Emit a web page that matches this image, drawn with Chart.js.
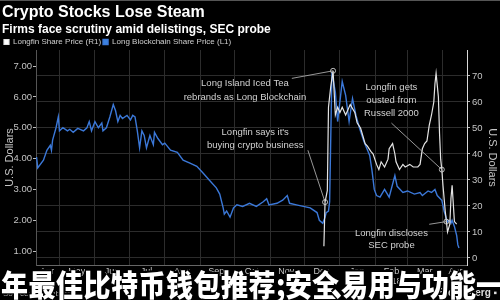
<!DOCTYPE html>
<html>
<head>
<meta charset="utf-8">
<script src="https://cdn.jsdelivr.net/npm/chart.js@4.4.1/dist/chart.umd.min.js"></script>
<style>
    html, body { margin: 0; padding: 0; background: #000; }
    #wrap { position: relative; width: 500px; height: 300px; overflow: hidden; background: #000; }
    #wrap:before { content: ''; position: absolute; left: 0; top: 0; width: 500px; height: 1px; background: #555; }
    #source { position: absolute; left: 3px; top: 289px; font: 8px "Liberation Sans", sans-serif; color: #aaa; }
    #logo { position: absolute; left: 438px; top: 287px; font: bold 10px "Liberation Sans", sans-serif; color: #ddd; }
    #overlay { position: absolute; left: 1px; top: 268px; white-space: nowrap; font-family: "Noto Sans CJK SC", sans-serif;
               font-weight: 900; font-size: 27px; line-height: 1; color: #fff;
               transform: scaleY(1.1); transform-origin: top left;
               text-shadow: 0 0 2px #000, 1px 1px 0 #000, -1px -1px 0 #000, 1px -1px 0 #000, -1px 1px 0 #000; }
    .wide { letter-spacing: 0.5px; }
    .semi { display: inline-block; width: 9px; text-align: center; }
    .comma { display: inline-block; width: 2px; overflow: visible; position: relative; left: -8px; z-index: 1; }
</style>
</head>
<body>
<div id="wrap">
    <canvas id="chart" width="500" height="300"></canvas>
    <div id="source">Source: Bloomberg</div>
    <div id="logo">Bloomberg ▪</div>
    <div id="overlay"><span class="wide">年最佳比特币钱包推荐</span><span class="semi">;</span>安全<span class="comma">、</span>易用与功能一览</div>
</div>
<script>
// Long Blockchain share price (left axis, L1)
const blockchainDates = [
    '2017-04-11', '2017-04-12', '2017-04-17', '2017-04-20', '2017-04-23', '2017-04-24', '2017-04-25', '2017-04-28', '2017-04-30',
    '2017-05-01', '2017-05-04', '2017-05-08', '2017-05-10', '2017-05-13', '2017-05-17', '2017-05-22', '2017-05-25', '2017-05-27', '2017-05-29',
    '2017-06-01', '2017-06-04', '2017-06-07', '2017-06-08', '2017-06-11', '2017-06-14', '2017-06-17', '2017-06-19', '2017-06-21', '2017-06-23', '2017-06-25', '2017-06-29',
    '2017-07-02', '2017-07-04', '2017-07-06', '2017-07-08', '2017-07-10', '2017-07-12', '2017-07-14', '2017-07-16', '2017-07-19', '2017-07-22', '2017-07-23', '2017-07-26', '2017-07-30',
    '2017-08-01', '2017-08-06', '2017-08-12', '2017-08-17', '2017-08-23', '2017-08-29',
    '2017-09-03', '2017-09-09', '2017-09-15', '2017-09-18', '2017-09-21', '2017-09-22', '2017-09-24', '2017-09-27', '2017-09-30',
    '2017-10-03', '2017-10-08', '2017-10-14', '2017-10-20', '2017-10-26', '2017-10-29', '2017-10-31',
    '2017-11-07', '2017-11-12', '2017-11-16', '2017-11-18', '2017-11-24', '2017-11-30',
    '2017-12-06', '2017-12-12', '2017-12-14', '2017-12-17', '2017-12-19', '2017-12-20', '2017-12-22', '2017-12-23', '2017-12-25', '2017-12-28', '2017-12-30',
    '2018-01-03', '2018-01-06', '2018-01-09', '2018-01-12', '2018-01-15', '2018-01-18', '2018-01-22', '2018-01-27', '2018-01-29', '2018-01-31',
    '2018-02-02', '2018-02-05', '2018-02-09', '2018-02-13', '2018-02-18', '2018-02-20', '2018-02-25',
    '2018-03-01', '2018-03-07', '2018-03-12', '2018-03-14', '2018-03-19', '2018-03-22', '2018-03-25', '2018-03-27', '2018-03-31',
    '2018-04-02', '2018-04-04', '2018-04-05', '2018-04-07', '2018-04-08', '2018-04-09', '2018-04-11', '2018-04-13', '2018-04-14', '2018-04-15'
];
const blockchainPrices = [
    4.05, 3.7, 3.95, 4.27, 4.43, 4.27, 4.6, 5.0, 5.35,
    4.9, 5.0, 4.9, 4.95, 4.85, 4.98, 4.9, 5.0, 5.2, 4.9,
    5.2, 5.0, 5.15, 4.9, 5.0, 5.35, 5.75, 5.55, 5.2, 5.4, 5.3, 5.4,
    5.25, 5.4, 5.35, 4.9, 4.35, 4.9, 4.75, 4.35, 4.75, 4.45, 4.85, 4.65, 4.45,
    4.5, 4.27, 4.2, 3.95, 3.85, 3.75,
    3.55, 3.3, 3.05, 2.85, 2.4, 2.2, 2.3, 2.1, 2.4,
    2.5, 2.45, 2.55, 2.45, 2.6, 2.7, 2.5,
    2.55, 2.65, 2.8, 2.55, 2.5, 2.45,
    2.4, 2.25, 2.0, 1.9, 2.1, 2.25, 2.3, 2.6, 6.8, 6.15, 5.2,
    6.5, 6.05, 5.2, 5.95, 5.4, 5.0, 4.55, 4.1, 3.62, 3.0,
    2.8, 2.75, 3.0, 2.75, 3.45, 3.1, 2.9,
    2.95, 2.85, 2.9, 2.8, 2.95, 2.9, 3.0, 2.8, 2.65,
    2.3, 2.05, 1.95, 2.0, 1.9, 2.0, 1.8, 1.5, 1.2, 1.1
];

// Longfin share price (right axis, R1)
const longfinDates = [
    '2017-12-18', '2017-12-19', '2017-12-21', '2017-12-22', '2017-12-24', '2017-12-26', '2017-12-28', '2017-12-30',
    '2018-01-01', '2018-01-03', '2018-01-06', '2018-01-08', '2018-01-10', '2018-01-14', '2018-01-16', '2018-01-19', '2018-01-21', '2018-01-23', '2018-01-25', '2018-01-28', '2018-01-30',
    '2018-02-02', '2018-02-04', '2018-02-06', '2018-02-09', '2018-02-12', '2018-02-13', '2018-02-16', '2018-02-18', '2018-02-19', '2018-02-22', '2018-02-25', '2018-02-27',
    '2018-03-03', '2018-03-06', '2018-03-10', '2018-03-12', '2018-03-14', '2018-03-16', '2018-03-18', '2018-03-20', '2018-03-22', '2018-03-24', '2018-03-25', '2018-03-26', '2018-03-28', '2018-03-29', '2018-03-30', '2018-03-31',
    '2018-04-01', '2018-04-03', '2018-04-04', '2018-04-05', '2018-04-07', '2018-04-08', '2018-04-09', '2018-04-11', '2018-04-13'
];
const longfinPrices = [
    4.5, 21.5, 26, 58, 66, 72, 55, 58,
    56, 58, 55, 57, 59, 56, 52, 50, 47, 44, 43, 41, 40,
    36, 34, 37, 35, 38, 42, 44, 40, 37, 34, 36, 35,
    36, 35, 35, 36, 42, 44, 45, 51, 55, 60, 67, 71, 62, 48, 38, 34,
    28, 18, 14, 10, 13, 23, 28, 14, 13
];

// Axes
const monthStarts = ['2017-05-01', '2017-06-01', '2017-07-01', '2017-08-01', '2017-09-01', '2017-10-01', '2017-11-01',
                     '2017-12-01', '2018-01-01', '2018-02-01', '2018-03-01', '2018-04-01'];
const monthLabels = ['Apr', 'May', 'Jun', 'Jul', ['Aug', '2017'], 'Sep', 'Oct', 'Nov', 'Dec', 'Jan', ['Feb', '2018'], 'Mar', 'Apr'];
const monthLabelDates = ['2017-04-20', '2017-05-16', '2017-06-16', '2017-07-16', '2017-08-16', '2017-09-15', '2017-10-16',
                         '2017-11-15', '2017-12-16', '2018-01-16', '2018-02-15', '2018-03-16', '2018-04-12'];
const leftTicks = [1, 2, 3, 4, 5, 6, 7];
const rightTicks = [0, 10, 20, 30, 40, 50, 60, 70];

// Annotations: text lines placed on the left axis, leader to a Longfin point
const notes = [
    { lines: ['Long Island Iced Tea', 'rebrands as Long Blockchain'], at: '2017-10-10', levels: [6.45, 6.0], from: ['2017-11-20', 6.6], target: '2017-12-26' },
    { lines: ["Longfin says it's", 'buying crypto business'], at: '2017-10-19', levels: [4.86, 4.44], from: ['2017-12-04', 4.27], target: '2017-12-19' },
    { lines: ['Longfin gets', 'ousted from', 'Russell 2000'], at: '2018-02-15', levels: [6.32, 5.9, 5.47], from: ['2018-02-15', 5.15], target: '2018-03-31' },
    { lines: ['Longfin discloses', 'SEC probe'], at: '2018-02-15', levels: [1.58, 1.19], from: ['2018-03-20', 1.87], target: '2018-04-04' }
];

const DAY0 = Date.UTC(2017, 4, 1);
function dayNum(s) {
    const [y, m, d] = s.split('-').map(Number);
    return (Date.UTC(y, m - 1, d) - DAY0) / 86400000;
}

const xMin = dayNum('2017-04-10') + 0.5;
const xMax = dayNum('2018-04-22');
const tickColor = '#c4c4c4';
const gridColor = '#2c2c2c';

const notesPlugin = {
    id: 'notes',
    afterDatasetsDraw(chart) {
        const { ctx, scales } = chart;
        ctx.save();
        ctx.font = '9.5px "Liberation Sans", sans-serif';
        ctx.fillStyle = '#d2d2d2';
        ctx.textAlign = 'center';
        ctx.textBaseline = 'middle';
        notes.forEach(n => {
            const x = scales.x.getPixelForValue(dayNum(n.at));
            n.lines.forEach((t, i) => ctx.fillText(t, x, scales.yL.getPixelForValue(n.levels[i])));

            const idx = longfinDates.indexOf(n.target);
            const tx = scales.x.getPixelForValue(dayNum(n.target));
            const ty = scales.yR.getPixelForValue(longfinPrices[idx]);
            ctx.strokeStyle = '#a8a8a8';
            ctx.lineWidth = 0.9;
            ctx.beginPath();
            ctx.moveTo(scales.x.getPixelForValue(dayNum(n.from[0])), scales.yL.getPixelForValue(n.from[1]));
            ctx.lineTo(tx, ty);
            ctx.stroke();
            ctx.strokeStyle = '#cfcfcf';
            ctx.beginPath();
            ctx.arc(tx, ty, 2.5, 0, Math.PI * 2);
            ctx.stroke();
        });
        ctx.restore();
    }
};

new Chart(document.getElementById('chart'), {
    type: 'line',
    data: {
        datasets: [
            {
                label: 'Longfin Share Price (R1)',
                data: longfinDates.map((d, i) => ({ x: dayNum(d), y: longfinPrices[i] })),
                yAxisID: 'yR',
                borderColor: '#e4e4e4',
                backgroundColor: '#ffffff',
                borderWidth: 1.2,
                pointRadius: 0,
                tension: 0
            },
            {
                label: 'Long Blockchain Share Price (L1)',
                data: blockchainDates.map((d, i) => ({ x: dayNum(d), y: blockchainPrices[i] })),
                yAxisID: 'yL',
                borderColor: '#3b78d8',
                backgroundColor: '#3b82e0',
                borderWidth: 1.4,
                pointRadius: 0,
                tension: 0
            }
        ]
    },
    options: {
        responsive: false,
        animation: false,
        layout: { padding: { left: 2, right: 0, top: 0, bottom: 0 } },
        plugins: {
            title: {
                display: true,
                text: 'Crypto Stocks Lose Steam',
                align: 'start',
                color: '#ffffff',
                font: { family: '"Liberation Sans", sans-serif', size: 16, weight: 'bold', lineHeight: 1.0 },
                padding: { top: 5, bottom: 0 }
            },
            subtitle: {
                display: true,
                text: 'Firms face scrutiny amid delistings, SEC probe',
                align: 'start',
                color: '#ffffff',
                font: { family: '"Liberation Sans", sans-serif', size: 12, weight: 'bold', lineHeight: 1.0 },
                padding: { top: 3, bottom: 0 }
            },
            legend: {
                align: 'start',
                maxHeight: 14,
                labels: {
                    color: '#cfcfcf',
                    font: { family: '"Liberation Sans", sans-serif', size: 8 },
                    boxWidth: 5,
                    boxHeight: 5,
                    padding: 2
                }
            },
            tooltip: { enabled: false }
        },
        scales: {
            x: {
                type: 'linear',
                min: xMin,
                max: xMax,
                weight: 0,
                afterBuildTicks: s => { s.ticks = monthStarts.map(d => ({ value: dayNum(d) })); },
                ticks: { display: false },
                grid: { color: gridColor, drawTicks: false },
                border: { color: '#666' }
            },
            xLabels: {
                type: 'linear',
                position: 'bottom',
                min: xMin,
                max: xMax,
                weight: 1,
                afterBuildTicks: s => { s.ticks = monthLabelDates.map(d => ({ value: dayNum(d) })); },
                afterFit: s => { s.height = 35; },
                ticks: {
                    autoSkip: false,
                    maxRotation: 0,
                    padding: 2,
                    color: tickColor,
                    font: { family: '"Liberation Sans", sans-serif', size: 9, lineHeight: 1.1 },
                    callback: (v, i) => monthLabels[i]
                },
                grid: { display: false, drawTicks: false },
                border: { display: false }
            },
            yL: {
                type: 'linear',
                position: 'left',
                min: 0.55,
                max: 7.52,
                afterBuildTicks: s => { s.ticks = leftTicks.map(v => ({ value: v })); },
                afterFit: s => { s.width = 34; },
                ticks: {
                    color: tickColor,
                    padding: 1,
                    font: { family: '"Liberation Sans", sans-serif', size: 9.5 },
                    callback: v => v.toFixed(2)
                },
                grid: { drawOnChartArea: false, tickLength: 3, tickColor: '#bbb' },
                border: { color: '#555' },
                title: {
                    display: true,
                    text: 'U.S. Dollars',
                    color: tickColor,
                    font: { family: '"Liberation Sans", sans-serif', size: 11 },
                    padding: { top: 1, bottom: 0 }
                }
            },
            yR: {
                type: 'linear',
                position: 'right',
                min: -2.7,
                max: 80,
                afterBuildTicks: s => { s.ticks = rightTicks.map(v => ({ value: v })); },
                afterFit: s => { s.width = 33; },
                ticks: {
                    color: tickColor,
                    padding: 2,
                    font: { family: '"Liberation Sans", sans-serif', size: 9.5 }
                },
                grid: { color: gridColor, tickLength: 3, tickColor: '#bbb' },
                border: { color: '#d8d8d8' },
                title: {
                    display: true,
                    text: 'U.S. Dollars',
                    color: tickColor,
                    font: { family: '"Liberation Sans", sans-serif', size: 11 },
                    padding: { top: 1, bottom: 0 }
                }
            }
        }
    },
    plugins: [notesPlugin]
});
</script>
</body>
</html>
